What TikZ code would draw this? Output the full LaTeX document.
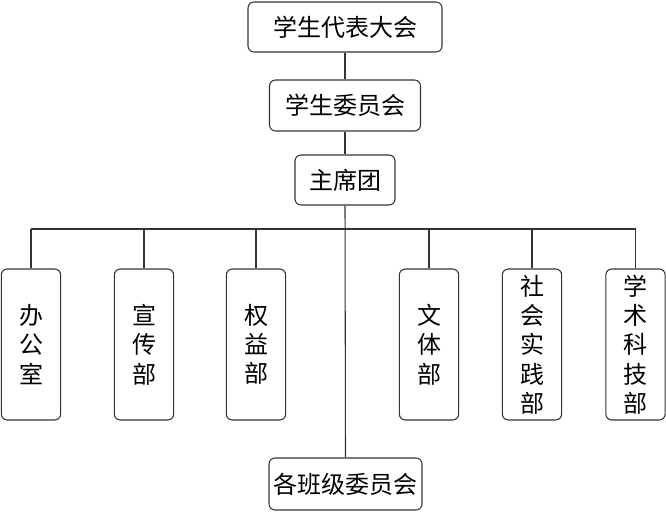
\documentclass[tikz,border=0pt]{standalone}
\usepackage{fontspec}
\setmainfont{Noto Sans CJK SC}
\begin{document}
\begin{tikzpicture}[x=0.75pt,y=-0.75pt,
  box/.style={draw=black!80, line width=0.8pt, rounded corners=4.5pt, inner sep=0pt, fill=white,
    font=\fontsize{18}{22}\selectfont, align=center},
  dept/.style={box, minimum width=44.5pt, minimum height=113.25pt},
  link/.style={draw=black!80, line width=0.8pt}]
\useasboundingbox (0,0) rectangle (666,511);
\node[box, minimum width=145.5pt, minimum height=37.5pt] (dbdh) at (345,27) {学生代表大会};
\node[box, minimum width=113.25pt, minimum height=38.25pt] (xswh) at (345,105.5) {学生委员会};
\node[box, minimum width=75pt, minimum height=37.5pt] (zxt) at (345,180) {主席团};
\node[box, minimum width=114.75pt, minimum height=39pt] (bjwh) at (345.5,484) {各班级委员会};
\node[dept] (d1) at (31,344.5) {办\\公\\室};
\node[dept] (d2) at (144,344.5) {宣\\传\\部};
\node[dept] (d3) at (256,344.5) {权\\益\\部};
\node[dept] (d4) at (429,344.5) {文\\体\\部};
\node[dept] (d5) at (532,344.5) {社\\会\\实\\践\\部};
\node[dept] (d6) at (635.5,344.5) {学\\术\\科\\技\\部};
\coordinate (bus) at (345,229);
\draw[link] (dbdh.south) -- (xswh.north);
\draw[link] (xswh.south) -- (zxt.north);
\draw[link] (zxt.south) -- (bjwh.north);
\draw[link] (d1.north |- bus) -- (d6.north |- bus);
\foreach \d in {d1,d2,d3,d4,d5,d6} \draw[link] (\d.north |- bus) -- (\d.north);
\end{tikzpicture}
\end{document}
